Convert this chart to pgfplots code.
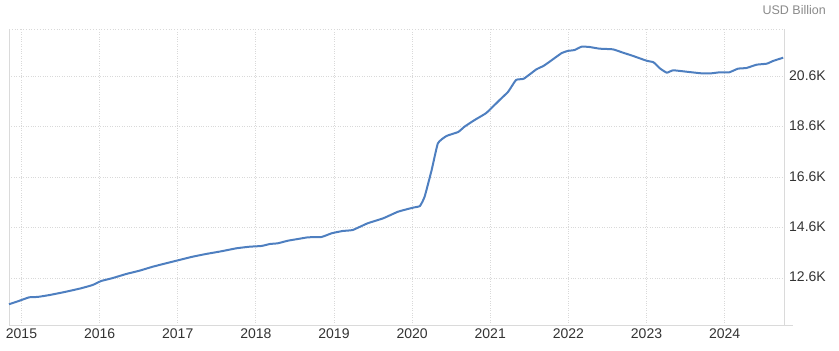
\documentclass[border=0pt]{standalone}
\usepackage{fontspec}
\setmainfont{Liberation Sans}
\usepackage{pgfplots}
\pgfplotsset{compat=1.18}
\definecolor{linec}{HTML}{4E7FC0}
\definecolor{gridc}{HTML}{D9D9D9}
\definecolor{axisc}{HTML}{DADADA}
\definecolor{tickc}{HTML}{333333}
\definecolor{unitc}{HTML}{8A8A8A}
\begin{document}
\begin{tikzpicture}[x=1pt,y=1pt]
\useasboundingbox (0,0) rectangle (839,351);
\begin{axis}[
  at={(9pt,26pt)}, anchor=south west,
  scale only axis, width=775pt, height=296pt,
  xmin=2014.84, xmax=2024.76,
  ymin=10735, ymax=22480,
  scaled y ticks=false, scaled x ticks=false,
  axis y line*=right, axis x line*=bottom,
  axis line style={draw=axisc, line width=0.8pt},
  major tick length=0pt,
  xtick={2015,2016,2017,2018,2019,2020,2021,2022,2023,2024},
  xticklabels={2015,2016,2017,2018,2019,2020,2021,2022,2023,2024},
  ytick={12600,14600,16600,18600,20600},
  yticklabels={12.6K,14.6K,16.6K,18.6K,20.6K},
  xticklabel style={font=\fontsize{14}{16}\selectfont, text=tickc, inner sep=0pt, anchor=north, yshift=-4pt},
  yticklabel style={font=\fontsize{14}{16}\selectfont, text=tickc, inner sep=0pt, anchor=west, xshift=5pt, yshift=1pt},
  grid=major, grid style={dotted, draw=gridc, line width=0.8pt},
  clip=false,
]
\draw[dotted, draw=gridc, line width=0.8pt] (rel axis cs:0,1) -- (rel axis cs:1,1);
\draw[draw=axisc, line width=0.8pt] (rel axis cs:0,0) -- (rel axis cs:0,1);
\draw[draw=axisc, line width=0.8pt] (rel axis cs:1,0) -- ([xshift=9pt]rel axis cs:1,0);
\addplot[linec, line width=2pt, line join=round, smooth, tension=0.25] coordinates {
(2014.84,11560) (2014.93,11650) (2015.00,11727) (2015.10,11834) (2015.21,11850)
(2015.36,11925) (2015.57,12056) (2015.76,12190) (2015.91,12322) (2016.02,12481)
(2016.17,12600) (2016.34,12759) (2016.51,12890) (2016.68,13048) (2016.85,13183)
(2017.02,13314) (2017.19,13445) (2017.36,13552) (2017.54,13650) (2017.75,13778)
(2017.92,13842) (2018.07,13870) (2018.18,13949) (2018.28,13977) (2018.41,14080)
(2018.56,14159) (2018.67,14215) (2018.84,14227) (2018.97,14374) (2019.11,14465)
(2019.24,14505) (2019.43,14770) (2019.63,14969) (2019.82,15231) (2020.01,15390)
(2020.10,15457) (2020.16,15826) (2020.25,16885) (2020.33,17945) (2020.44,18235)
(2020.59,18393) (2020.67,18604) (2020.80,18869) (2020.95,19150) (2021.12,19663)
(2021.23,19993) (2021.33,20457) (2021.43,20509) (2021.59,20878) (2021.68,21012)
(2021.76,21183) (2021.91,21516) (2021.99,21608) (2022.08,21647) (2022.17,21779)
(2022.27,21766) (2022.40,21699) (2022.57,21673) (2022.70,21540) (2022.83,21409)
(2023.00,21222) (2023.09,21159) (2023.17,20921) (2023.26,20746) (2023.34,20841)
(2023.51,20786) (2023.70,20722) (2023.83,20722) (2023.94,20762) (2024.06,20762)
(2024.17,20905) (2024.28,20933) (2024.41,21064) (2024.54,21104) (2024.62,21211)
(2024.75,21342)
};
\end{axis}
\node[anchor=north east, inner sep=0pt, text=unitc, font=\fontsize{12.5}{14}\selectfont] at (826,346) {USD Billion};
\end{tikzpicture}
\end{document}
